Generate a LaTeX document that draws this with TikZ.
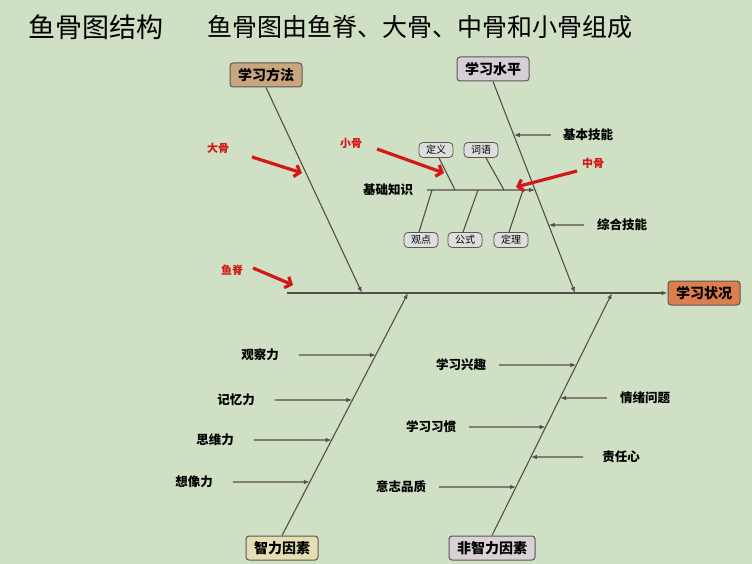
\documentclass[tikz,border=0pt]{standalone}
\usepackage{fontspec}
\setmainfont{Noto Sans CJK SC}
\usetikzlibrary{arrows.meta,calc}
\definecolor{cBack}{RGB}{207,224,196}
\definecolor{cBone}{RGB}{88,76,76}
\definecolor{cFrame}{RGB}{95,85,85}
\definecolor{cMethod}{RGB}{201,166,126}
\definecolor{cLevel}{RGB}{214,205,214}
\definecolor{cHead}{RGB}{219,127,78}
\definecolor{cIQ}{RGB}{227,223,179}
\definecolor{cNonIQ}{RGB}{217,209,214}
\definecolor{cSmall}{RGB}{222,222,222}
\definecolor{cRed}{RGB}{212,24,24}
\begin{document}
\begin{tikzpicture}[x=1pt,y=-1pt,
    bone/.style={draw=cBone,line width=1.1pt},
    twig/.style={bone,-{Latex[length=6pt,width=4.5pt]}},
    bigbox/.style={draw=cFrame,line width=1pt,rounded corners=3pt,
      font=\bfseries\fontsize{14}{14}\selectfont,inner xsep=8pt,minimum height=24pt},
    smallbox/.style={draw=cFrame,line width=0.8pt,fill=cSmall,rounded corners=4pt,
      font=\fontsize{10}{10}\selectfont,inner xsep=7pt,inner ysep=1pt,minimum height=15pt},
    factor/.style={font=\bfseries\fontsize{12.5}{12.5}\selectfont,inner sep=0pt},
    note/.style={text=cRed,font=\bfseries\fontsize{11}{11}\selectfont,inner sep=0pt},
    pointer/.style={draw=cRed,line width=3.2pt,-{Straight Barb[length=5pt,width=12pt]}}]
%
      \fill[cBack] (0,0) rectangle (752,564);
      \useasboundingbox (0,0) rectangle (752,564);
%
      \node[anchor=west,font=\fontsize{27}{27}\selectfont,inner sep=0pt] (titel) at (28,27) {鱼骨图结构};
      \node[anchor=west,font=\fontsize{25}{25}\selectfont,inner sep=0pt] (untertitel) at (207,27) {鱼骨图由鱼脊、大骨、中骨和小骨组成};
%
      \node[bigbox,fill=cMethod] (fangfa) at (266,75) {学习方法};
      \node[bigbox,fill=cLevel] (shuiping) at (493,69) {学习水平};
      \node[bigbox,fill=cHead] (zhuangkuang) at (704,293) {学习状况};
      \node[bigbox,fill=cIQ] (zhili) at (282,548) {智力因素};
      \node[bigbox,fill=cNonIQ] (feizhili) at (492,548) {非智力因素};
%
      \coordinate (tail) at (287,293);
      \coordinate (j1) at (362,293);
      \coordinate (j2) at (575,293);
      \coordinate (j3) at (408,293);
      \coordinate (j4) at (612,293);
%
      \draw[twig] (tail) -- (zhuangkuang);
      \draw[twig] (fangfa.south) -- (j1);
      \draw[twig] (shuiping.south) -- (j2);
      \draw[twig] (zhili.north) -- (j3);
      \draw[twig] (feizhili.north) -- (j4);
%
      \node[factor] (jiben) at (588,135) {基本技能};
      \node[factor] (zonghe) at (622,225) {综合技能};
      \draw[twig] ([xshift=-12pt]jiben.west) -- (intersection of shuiping.south--j2 and jiben.west--jiben.east);
      \draw[twig] ([xshift=-13pt]zonghe.west) -- (intersection of shuiping.south--j2 and zonghe.west--zonghe.east);
%
      \node[factor] (jichu) at (388,190) {基础知识};
      \draw[twig] ([xshift=14pt]jichu.east) -- (intersection of shuiping.south--j2 and jichu.west--jichu.east);
      \node[smallbox] (dingyi) at (436,150) {定义};
      \node[smallbox] (ciyu) at (481,150) {词语};
      \node[smallbox] (guandian) at (421,240) {观点};
      \node[smallbox] (gongshi) at (465,240) {公式};
      \node[smallbox] (dingli) at (511,240) {定理};
      \coordinate (s1) at (455,190);
      \coordinate (s2) at (504,190);
      \coordinate (s3) at (432,190);
      \coordinate (s4) at (478,190);
      \coordinate (s5) at (523,190);
      \draw[bone] ([xshift=3pt]dingyi.south) -- (s1);
      \draw[bone] ([xshift=5pt]ciyu.south) -- (s2);
      \draw[bone] ([xshift=-2pt]guandian.north) -- (s3);
      \draw[bone] ([xshift=-2pt]gongshi.north) -- (s4);
      \draw[bone] ([xshift=-2pt]dingli.north) -- (s5);
%
      \node[factor] (guancha) at (260,355) {观察力};
      \node[factor] (jiyi) at (236,400) {记忆力};
      \node[factor] (siwei) at (215,440) {思维力};
      \node[factor] (xiangxiang) at (194,482) {想像力};
      \foreach \f in {guancha,jiyi,siwei,xiangxiang}
        \draw[twig] ([xshift=20pt]\f.east) -- (intersection of zhili.north--j3 and \f.west--\f.east);
%
      \node[factor] (xingqu) at (461,365) {学习兴趣};
      \node[factor] (xiguan) at (431,427) {学习习惯};
      \node[factor] (yizhi) at (401,487) {意志品质};
      \foreach \f in {xingqu,xiguan,yizhi}
        \draw[twig] ([xshift=13pt]\f.east) -- (intersection of feizhili.north--j4 and \f.west--\f.east);
      \node[factor] (qingxu) at (645,398) {情绪问题};
      \node[factor] (zeren) at (621,457) {责任心};
      \draw[twig] ([xshift=-13pt]qingxu.west) -- (intersection of feizhili.north--j4 and qingxu.west--qingxu.east);
      \draw[twig] ([xshift=-19pt]zeren.west) -- (intersection of feizhili.north--j4 and zeren.west--zeren.east);
%
      \node[note] (dagu) at (218,148) {大骨};
      \node[note] (xiaogu) at (351,143) {小骨};
      \node[note] (zhonggu) at (593,163) {中骨};
      \node[note] (yuji) at (232,270) {鱼脊};
      \coordinate (dagu-to) at (302,173);
      \coordinate (xiaogu-to) at (444,173);
      \coordinate (zhonggu-to) at (516,187);
      \coordinate (yuji-to) at (293,285);
      \draw[pointer] (252,157) -- (dagu-to);
      \draw[pointer] (377,149) -- (xiaogu-to);
      \draw[pointer] (577,171) -- (zhonggu-to);
      \draw[pointer] (253,268) -- (yuji-to);
%
\end{tikzpicture}
\end{document}
